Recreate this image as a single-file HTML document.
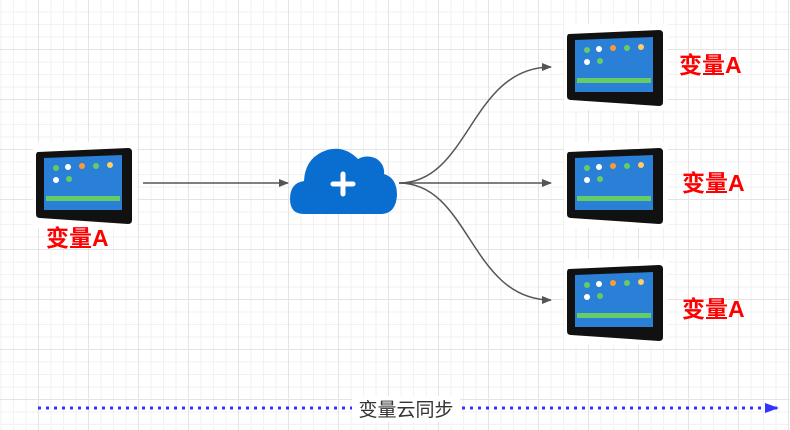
<!DOCTYPE html><html><head><meta charset="utf-8"><style>
body{margin:0;width:790px;height:430px;overflow:hidden;background:#fff;
background-image:linear-gradient(#e4e4e4 1px,transparent 1px),linear-gradient(90deg,#e4e4e4 1px,transparent 1px),linear-gradient(#f2f2f2 1px,transparent 1px),linear-gradient(90deg,#f2f2f2 1px,transparent 1px);
background-size:50px 50px,50px 50px,12.5px 12.5px,12.5px 12.5px;background-position:0 -1px,-12px 0,0 -1px,-12px 0;font-family:"Liberation Sans","Noto Sans CJK SC",sans-serif}
.lab{position:absolute;color:#f00;font-weight:bold;font-size:23px;line-height:26px}
</style></head><body>
<svg width="790" height="430" style="position:absolute;left:0;top:0">
<defs>
<g id="tab">
<rect x="-3" y="-6" width="104" height="86" fill="#fff"/>
<path d="M2 4 L92 0 Q96 0 96 4 L96 72 Q96 76 92 76 L4 70 Q0 70 0 66 L0 8 Q0 4 2 4Z" fill="#111"/>
<path d="M8 10 L86 7 L86 62 L8 62Z" fill="#2a7fd6"/>
<circle cx="20" cy="20" r="3" fill="#6c6"/><circle cx="32" cy="19" r="3" fill="#fff"/><circle cx="46" cy="18" r="3" fill="#f93"/><circle cx="60" cy="18" r="3" fill="#6c6"/><circle cx="74" cy="17" r="3" fill="#fc6"/>
<circle cx="20" cy="32" r="3" fill="#fff"/><circle cx="33" cy="31" r="3" fill="#6c6"/>
<rect x="10" y="48" width="74" height="5" fill="#6c6"/>
</g>
<marker id="a" markerWidth="10" markerHeight="10" refX="9" refY="5" orient="auto" markerUnits="userSpaceOnUse"><path d="M0 1 L10 5 L0 9Z" fill="#555"/></marker>
<marker id="b" markerWidth="14" markerHeight="12" refX="13" refY="6" orient="auto" markerUnits="userSpaceOnUse"><path d="M0 1 L14 6 L0 11Z" fill="#33f"/></marker>
</defs>
<use href="#tab" x="36" y="148"/>
<use href="#tab" x="567" y="30"/>
<use href="#tab" x="567" y="148"/>
<use href="#tab" x="567" y="265"/>
<g stroke="#555" stroke-width="1.5" fill="none" marker-end="url(#a)">
<path d="M143 183 L288 183"/>
<path d="M399 183 C470 183 470 67 551 67"/>
<path d="M399 183 L551 183"/>
<path d="M399 183 C470 183 470 300 551 300"/>
</g>
<path d="M304 214 Q290 214 290 199 Q290 183 304 181 Q305 160 322 152 Q342 143 358 159 Q367 154 377 159 Q385 165 384 174 Q397 178 397 195 Q396 213 382 214Z" fill="#0a6ed1"/>
<path d="M343 174 V194 M333 184 H353" stroke="#fff" stroke-width="5" stroke-linecap="round"/>
<line x1="38" y1="408" x2="778" y2="408" stroke="#33f" stroke-width="3" stroke-dasharray="3 5" marker-end="url(#b)"/>
<rect x="352" y="396" width="108" height="26" fill="#fff"/>
<text x="406" y="416" text-anchor="middle" font-size="19" fill="#333" font-family="Liberation Sans,Noto Sans CJK SC,sans-serif">变量云同步</text>
</svg>
<div class="lab" style="left:46px;top:225px">变量A</div>
<div class="lab" style="left:679px;top:52px">变量A</div>
<div class="lab" style="left:682px;top:170px">变量A</div>
<div class="lab" style="left:682px;top:296px">变量A</div>
</body></html>
